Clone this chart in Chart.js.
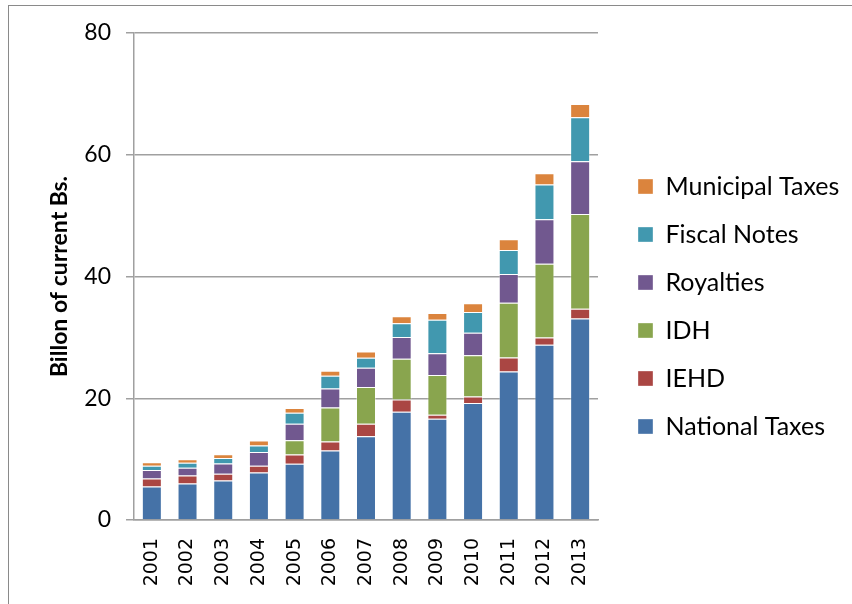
<!DOCTYPE html>
<html>
<head>
<meta charset="utf-8">
<script src="https://cdn.jsdelivr.net/npm/chart.js@4"></script>
<style>
  body { margin: 0; background: #fff; }
  #wrap { position: relative; width: 852px; height: 604px; }
  #frame { position: absolute; left: 8px; top: 5px; right: 0; bottom: 0;
           border-left: 1.5px solid #8a8a8a; border-top: 1.5px solid #8a8a8a; pointer-events: none; }
</style>
</head>
<body>
<div id="wrap">
  <canvas id="tax-chart" width="852" height="604"></canvas>
  <div id="frame"></div>
</div>
<script>
const years = ['2001', '2002', '2003', '2004', '2005', '2006', '2007', '2008', '2009', '2010', '2011', '2012', '2013'];
const nationalTaxes = [5.5, 6.0, 6.5, 7.8, 9.25, 11.4, 13.75, 17.8, 16.65, 19.2, 24.4, 28.8, 33.1];
const iehd = [1.3, 1.3, 1.1, 1.1, 1.5, 1.5, 2.05, 2.0, 0.65, 1.1, 2.3, 1.2, 1.6];
const idh = [0, 0, 0, 0, 2.35, 5.6, 6.05, 6.7, 6.5, 6.75, 9.0, 12.1, 15.55];
const royalties = [1.4, 1.3, 1.7, 2.25, 2.7, 3.1, 3.15, 3.55, 3.6, 3.7, 4.7, 7.3, 8.7];
const fiscalNotes = [0.7, 0.8, 0.9, 1.1, 1.8, 2.1, 1.65, 2.25, 5.5, 3.4, 3.95, 5.7, 7.2];
const municipalTaxes = [0.6, 0.6, 0.6, 0.8, 0.8, 0.8, 1.05, 1.15, 1.1, 1.45, 1.75, 1.85, 2.2];

const font = "Lato, 'Open Sans', sans-serif";
const gridGray = '#a0a0a0';

function series(label, data, color) {
    return {
        label: label,
        data: data,
        backgroundColor: color,
        borderColor: 'rgba(255,255,255,0.35)',
        borderWidth: 1,
        barPercentage: 0.7,
        categoryPercentage: 0.8
    };
}

// legend sits a bit right of and above where chart.js would centre it
const legendPlacer = {
    id: 'legendPlacer',
    beforeLayout(chart) {
        const legend = chart.legend;
        if (legend && !legend._fixedFit) {
            const fit = legend.fit.bind(legend);
            legend.fit = function () { fit(); this.width = 254; };
            legend._fixedFit = true;
        }
    },
    afterLayout(chart) {
        const legend = chart.legend;
        legend.left += 17; legend.right += 17;
        legend.top -= 12; legend.bottom -= 12;
    }
};

new Chart('tax-chart', {
    type: 'bar',
    data: {
        labels: years,
        datasets: [
            series('National Taxes', nationalTaxes, '#4572A7'),
            series('IEHD', iehd, '#AA4643'),
            series('IDH', idh, '#89A54E'),
            series('Royalties', royalties, '#71588F'),
            series('Fiscal Notes', fiscalNotes, '#4198AF'),
            series('Municipal Taxes', municipalTaxes, '#DB843D')
        ]
    },
    plugins: [legendPlacer],
    options: {
        responsive: false,
        animation: false,
        layout: { padding: { top: 33, right: 0, bottom: 0, left: 0 } },
        plugins: {
            tooltip: { enabled: false },
            legend: {
                position: 'right',
                reverse: true,
                labels: {
                    boxWidth: 15,
                    boxHeight: 15,
                    padding: 23,
                    color: '#000',
                    font: { family: font, size: 25 }
                }
            }
        },
        scales: {
            x: {
                stacked: true,
                grid: { display: false },
                border: { color: gridGray, width: 1.5 },
                ticks: {
                    color: '#000',
                    minRotation: 90,
                    maxRotation: 90,
                    padding: 10,
                    font: { family: "'DejaVu Sans', sans-serif", size: 19 }
                },
                afterFit: function (scale) { scale.height = 84; }
            },
            y: {
                stacked: true,
                min: 0,
                max: 80,
                ticks: {
                    stepSize: 20,
                    color: '#000',
                    padding: 15,
                    font: { family: font, size: 23 }
                },
                grid: { color: gridGray, lineWidth: 1.5, tickLength: 8 },
                border: { color: gridGray, width: 1.5 },
                title: {
                    display: true,
                    text: 'Billon of current Bs.',
                    color: '#000',
                    padding: { top: 46, bottom: 0 },
                    font: { family: font, size: 23, weight: 'bold' }
                },
                afterFit: function (scale) { scale.width = 134; }
            }
        }
    }
});
</script>
</body>
</html>
